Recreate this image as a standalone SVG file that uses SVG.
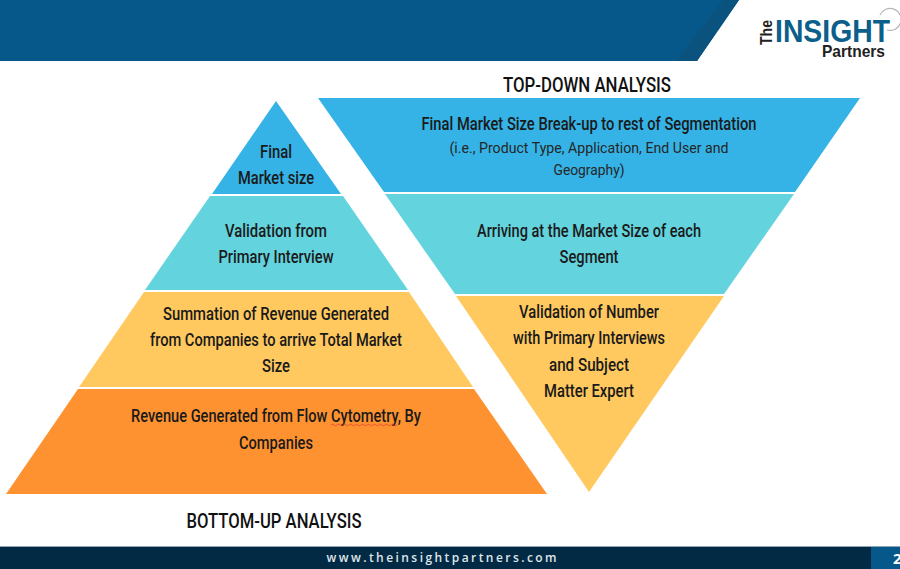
<svg xmlns="http://www.w3.org/2000/svg" width="900" height="569" viewBox="0 0 900 569">
<style>
.t{font-family:Roboto,"Liberation Sans",sans-serif;font-size:18px;font-weight:500;fill:#1a1a1a;text-anchor:middle}
.s{font-family:Roboto,"Liberation Sans",sans-serif;font-size:15px;fill:#262626;text-anchor:middle}
.h{font-family:Roboto,"Liberation Sans",sans-serif;font-size:20px;font-weight:500;fill:#111;text-anchor:middle}
</style>
<rect width="900" height="569" fill="#fff"/>
<g id="header">
<polygon points="0,0 739,0 697,61 0,61" fill="#06588a"/>
<polygon points="723,0 739,0 697,61 676,61" fill="#0a537f"/>
</g>
<g id="logo">
<text transform="translate(772,45) rotate(-90)" font-family="Liberation Sans,sans-serif" font-size="16" font-weight="700" fill="#222" textLength="25" lengthAdjust="spacingAndGlyphs">The</text>
<text x="775" y="42" font-family="Liberation Sans,sans-serif" font-size="32" font-weight="700" fill="#0b5f8a" textLength="115" lengthAdjust="spacingAndGlyphs">INSIGHT</text>
<text x="822" y="57" font-family="Liberation Sans,sans-serif" font-size="17" font-weight="700" fill="#222" textLength="63" lengthAdjust="spacingAndGlyphs">Partners</text>
<path d="M880,15A11,11 0 1 1 887,30" fill="none" stroke="#b5b5b5" stroke-width="1.2"/>
</g>
<g id="title-top"><text class="h" x="587" y="92" textLength="168" lengthAdjust="spacingAndGlyphs">TOP-DOWN ANALYSIS</text></g>
<g id="title-bottom"><text class="h" x="274" y="528" textLength="175" lengthAdjust="spacingAndGlyphs">BOTTOM-UP ANALYSIS</text></g>
<g id="pyr-1">
<polygon points="276,101 341,194 212,194" fill="#35b3e6"/>
<text class="t" x="276" y="158" textLength="32" lengthAdjust="spacingAndGlyphs">Final</text>
<text class="t" x="276" y="184" textLength="76" lengthAdjust="spacingAndGlyphs">Market size</text>
</g>
<g id="pyr-2">
<polygon points="210,196 343,196 408,290 145,290" fill="#63d3de"/>
<text class="t" x="276" y="237" textLength="102" lengthAdjust="spacingAndGlyphs">Validation from</text>
<text class="t" x="276" y="263" textLength="115" lengthAdjust="spacingAndGlyphs">Primary Interview</text>
</g>
<g id="pyr-3">
<polygon points="144,292 409,292 473,387 79,387" fill="#ffc95f"/>
<text class="t" x="276" y="320" textLength="226" lengthAdjust="spacingAndGlyphs">Summation of Revenue Generated</text>
<text class="t" x="276" y="346" textLength="252" lengthAdjust="spacingAndGlyphs">from Companies to arrive Total Market</text>
<text class="t" x="276" y="372" textLength="28" lengthAdjust="spacingAndGlyphs">Size</text>
</g>
<g id="pyr-4">
<polygon points="78,389 474,389 547,494 6,494" fill="#ff9230"/>
<text class="t" x="276" y="422" textLength="290" lengthAdjust="spacingAndGlyphs">Revenue Generated from Flow Cytometry, By</text>
<text class="t" x="276" y="449" textLength="74" lengthAdjust="spacingAndGlyphs">Companies</text>
<path d="M331,425q1.500,-1.500 3,0t3,0t3,0t3,0t3,0t3,0t3,0t3,0t3,0t3,0t3,0t3,0t3,0t3,0t3,0t3,0t3,0t3,0t3,0t3,0t3,0t3,0" fill="none" stroke="#e0452e" stroke-width="0.8"/>
</g>
<g id="inv-1">
<polygon points="318,98 860,98 795,192 384,192" fill="#35b3e6"/>
<text class="t" x="589" y="130" textLength="335" lengthAdjust="spacingAndGlyphs">Final Market Size Break-up to rest of Segmentation</text>
<text class="s" x="589" y="153" textLength="279" lengthAdjust="spacingAndGlyphs">(i.e., Product Type, Application, End User and</text>
<text class="s" x="589" y="175" textLength="71" lengthAdjust="spacingAndGlyphs">Geography)</text>
</g>
<g id="inv-2">
<polygon points="385,194 794,194 724,294 455,294" fill="#63d3de"/>
<text class="t" x="589" y="237" textLength="224" lengthAdjust="spacingAndGlyphs">Arriving at the Market Size of each</text>
<text class="t" x="589" y="263" textLength="59" lengthAdjust="spacingAndGlyphs">Segment</text>
</g>
<g id="inv-3">
<polygon points="456,296 724,296 589,492" fill="#ffc95f"/>
<text class="t" x="589" y="318" textLength="140" lengthAdjust="spacingAndGlyphs">Validation of Number</text>
<text class="t" x="589" y="344" textLength="152" lengthAdjust="spacingAndGlyphs">with Primary Interviews</text>
<text class="t" x="589" y="371" textLength="80" lengthAdjust="spacingAndGlyphs">and Subject</text>
<text class="t" x="589" y="397" textLength="90" lengthAdjust="spacingAndGlyphs">Matter Expert</text>
</g>
<g id="footer">
<rect x="0" y="547" width="900" height="22" fill="#032a44"/>
<rect x="0" y="546" width="900" height="1" fill="#8fa5b2"/>
<rect x="871" y="547" width="29" height="22" fill="#06588a"/>
<text x="441.500" y="562" font-family="Open Sans,Liberation Sans,sans-serif" font-size="12" font-weight="600" fill="#dfe6ea" text-anchor="middle" textLength="230">www.theinsightpartners.com</text>
<text x="893" y="564" font-family="Open Sans,Liberation Sans,sans-serif" font-size="15" font-weight="700" fill="#fff">2</text>
</g>
</svg>
